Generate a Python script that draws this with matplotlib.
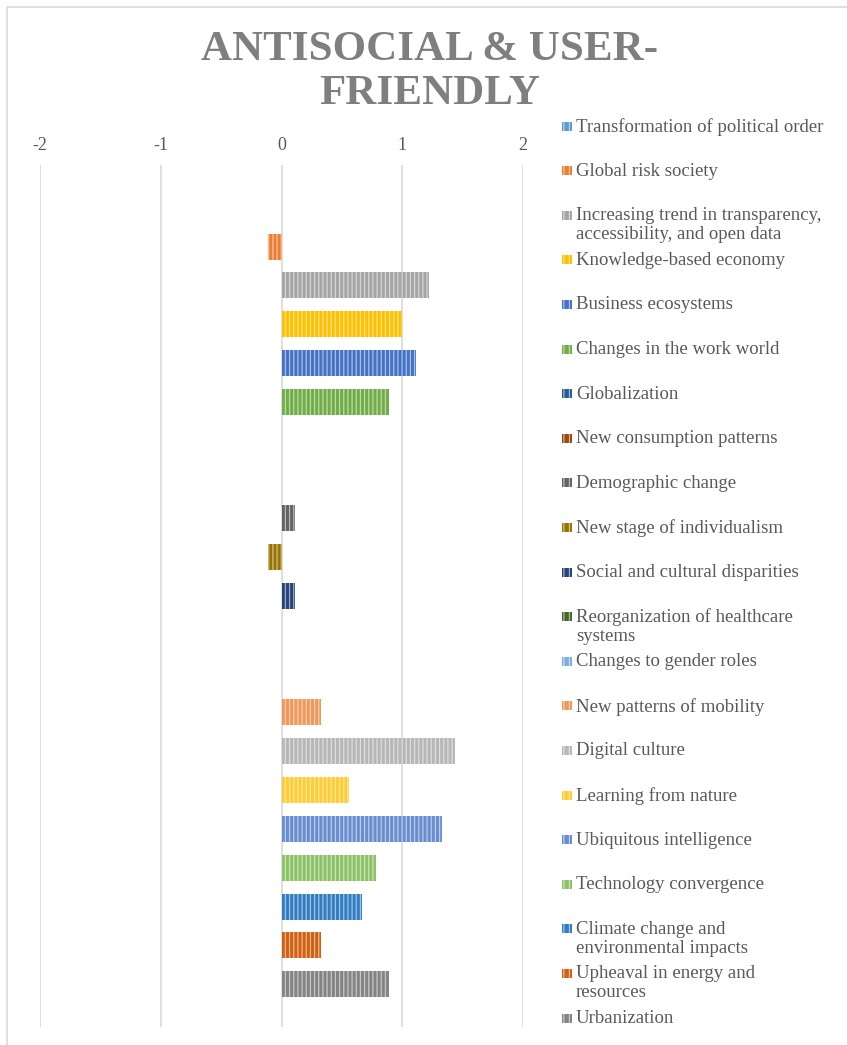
import matplotlib.pyplot as plt
from matplotlib.patches import Rectangle
import numpy as np

plt.rcParams['font.family'] = ['Liberation Serif', 'DejaVu Serif']
plt.rcParams['hatch.linewidth'] = 0.9

# trends, top to bottom
trends = [
    "Transformation of political order",
    "Global risk society",
    "Increasing trend in transparency,\naccessibility, and open data",
    "Knowledge-based economy",
    "Business ecosystems",
    "Changes in the work world",
    "Globalization",
    "New consumption patterns",
    "Demographic change",
    "New stage of individualism",
    "Social and cultural disparities",
    "Reorganization of healthcare\nsystems",
    "Changes to gender roles",
    "New patterns of mobility",
    "Digital culture",
    "Learning from nature",
    "Ubiquitous intelligence",
    "Technology convergence",
    "Climate change and\nenvironmental impacts",
    "Upheaval in energy and\nresources",
    "Urbanization",
]
scores = [0, -0.11, 1.22, 1.0, 1.11, 0.89, 0, 0, 0.11, -0.11, 0.11,
          0, 0, 0.33, 1.44, 0.56, 1.33, 0.78, 0.67, 0.33, 0.89]
colors = ["#5B9BD5", "#ED7D31", "#A5A5A5", "#FFC000", "#4472C4", "#70AD47",
          "#255E91", "#9E480E", "#636363", "#997300", "#264478", "#43682B",
          "#7CAFDD", "#F1975A", "#B7B7B7", "#FFCD33", "#698ED0", "#8CC168",
          "#327DC2", "#D26012", "#848484"]
xticks = [-2, -1, 0, 1, 2]

W, H = 847, 1045
fig = plt.figure(figsize=(W / 100, H / 100), dpi=100)

# chart frame
fig.patches.append(Rectangle((7 / W, -0.1), 2, 1.1 - 7 / H, transform=fig.transFigure,
                             fill=False, edgecolor="#d9d9d9", linewidth=1.2))

ax = fig.add_axes([40 / W, 1 - 1027 / H, (523 - 40) / W, (1027 - 165) / H])
pos = np.arange(len(trends))
ax.barh(pos, scores, height=0.67, color=colors, edgecolor=(1, 1, 1, 0.55),
        linewidth=0, hatch='||||')
ax.set_xlim(-2, 2)
ax.set_ylim(len(trends) - 1 + 1.1, -1.1)
ax.set_xticks(xticks)
ax.set_xticklabels([str(t) for t in xticks])
ax.xaxis.tick_top()
ax.tick_params(axis='x', length=0, pad=8, labelsize=13, labelcolor="#595959")
ax.set_yticks([])
ax.grid(axis='x', color="#d9d9d9", linewidth=1.2)
ax.set_axisbelow(True)
for s in ax.spines.values():
    s.set_visible(False)

fig.text(430 / W, 1 - 72 / H, "ANTISOCIAL & USER-\nFRIENDLY", ha='center', va='center',
         fontsize=31, fontweight='bold', color="#7f7f7f", linespacing=1.2)

# legend, one entry per trend
for i, (name, c) in enumerate(zip(trends, colors)):
    yc = 126 + i * 44.6
    fig.patches.append(Rectangle((562 / W, 1 - (yc + 4.5) / H), 10 / W, 9 / H,
                                 transform=fig.transFigure, facecolor=c,
                                 edgecolor=(1, 1, 1, 0.55), linewidth=0, hatch='|||'))
    fig.text(576 / W, 1 - (yc - 8) / H, name, ha='left', va='top', fontsize=13.5,
             color="#595959", linespacing=1.15)

fig.savefig("out.png", dpi=100)
